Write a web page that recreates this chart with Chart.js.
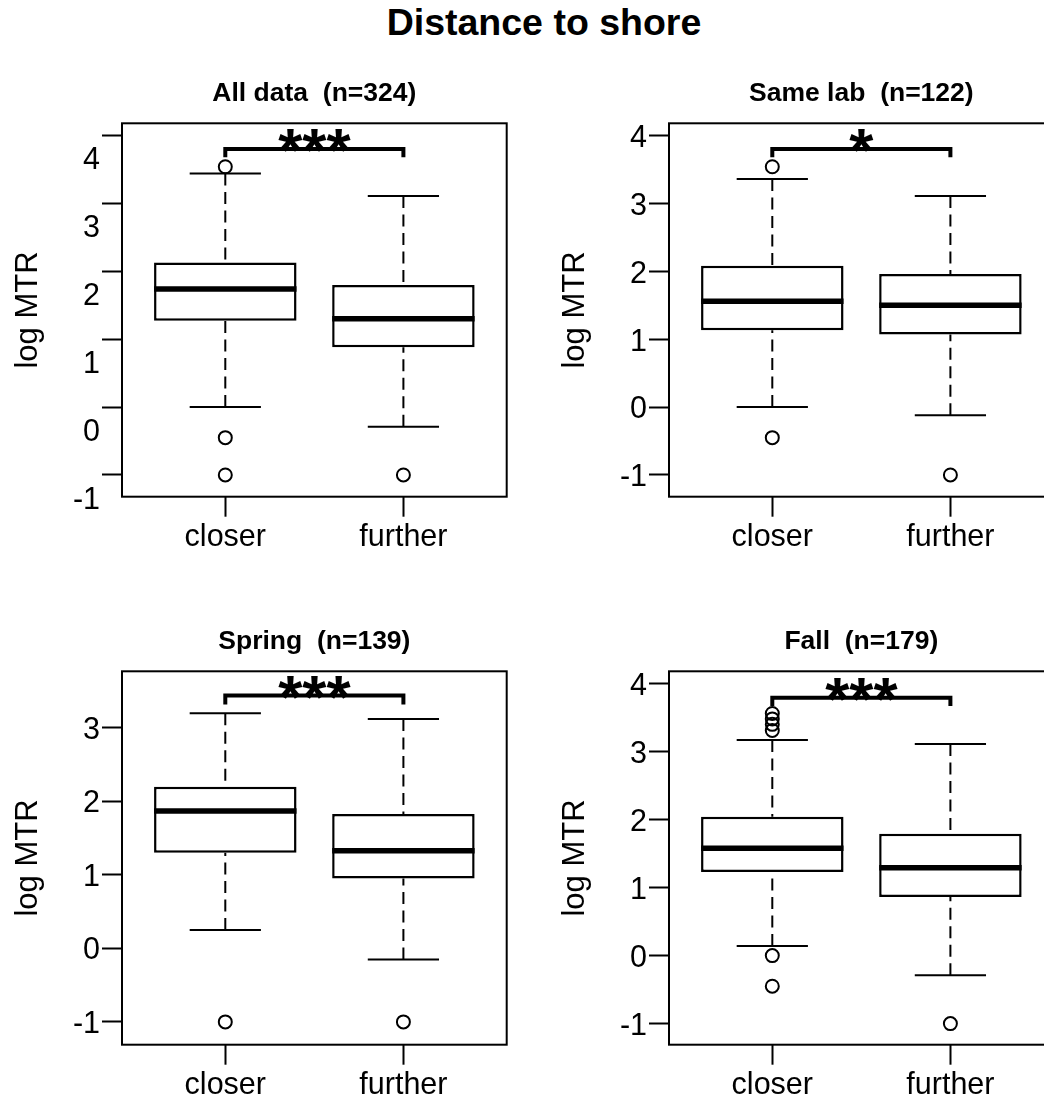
<!DOCTYPE html>
<html>
<head>
<meta charset="utf-8">
<script src="https://cdn.jsdelivr.net/npm/chart.js@4.4.1/dist/chart.umd.min.js"></script>
<style>
  html, body { margin: 0; padding: 0; background: #fff; }
  body { width: 1044px; height: 1099px; overflow: hidden; position: relative; font-family: "Liberation Sans", Arial, sans-serif; }
  #mainTitle { position: absolute; left: 0; top: 3px; width: 1088px; text-align: center; font-weight: bold; font-size: 37.5px; line-height: 38px; color: #000; }
  .panel { position: absolute; }
</style>
</head>
<body>
<div id="mainTitle">Distance to shore</div>
<script>
const categories = ['closer', 'further'];
const panelTitles = ['All data  (n=324)', 'Same lab  (n=122)', 'Spring  (n=139)', 'Fall  (n=179)'];

// five-number summaries, one pair (closer, further) per panel
const lowWhisker  = [[0.00, -0.29], [0.00, -0.12], [0.25, -0.15], [0.14, -0.29]];
const q1          = [[1.27, 0.88], [1.13, 1.07], [1.30, 0.95], [1.23, 0.86]];
const median      = [[1.74, 1.30], [1.56, 1.50], [1.87, 1.33], [1.58, 1.29]];
const q3          = [[2.13, 1.80], [2.08, 1.96], [2.20, 1.83], [2.04, 1.79]];
const highWhisker = [[3.44, 3.11], [3.36, 3.11], [3.20, 3.12], [3.17, 3.11]];
const outliers = [
  [[3.54, -0.45, -1.00], [-1.00]],
  [[3.54, -0.45], [-1.00]],
  [[-1.00], [-1.00]],
  [[3.56, 3.48, 3.40, 3.31, 0.00, -0.45], [-1.00]]
];

// significance bracket
const stars = ['***', '*', '***', '***'];
const bracketY = [3.80, 3.80, 3.44, 3.79];
const bracketDrop = 0.12;

// y axes
const yMin = [-1.32, -1.32, -1.31, -1.31];
const yMax = [4.18, 4.18, 3.77, 4.18];
const yTicks = [[-1, 0, 1, 2, 3, 4], [-1, 0, 1, 2, 3, 4], [-1, 0, 1, 2, 3], [-1, 0, 1, 2, 3, 4]];

// page placement of each canvas and vertical nudge of its tick labels
const spots = [[0, 60], [547, 60], [0, 608], [547, 608]];
const labelShift = [25.5, 3, 2.5, 3];
const CW = 540, CH = 490;
const PLOT_L = 122, PLOT_R = 506.7, PLOT_B = 436.7;

Chart.defaults.font.family = '"Liberation Sans", Arial, sans-serif';
Chart.defaults.color = '#000';

function seg(ctx, x1, y1, x2, y2) {
  ctx.beginPath();
  ctx.moveTo(x1, y1);
  ctx.lineTo(x2, y2);
  ctx.stroke();
}

const boxParts = {
  id: 'boxParts',
  beforeDatasetsDraw(chart, args, opts) {
    const k = opts.panel;
    const {ctx, scales: {x, y}} = chart;
    const bars = chart.getDatasetMeta(0).data;
    ctx.save();
    ctx.strokeStyle = '#000';
    ctx.lineWidth = 2;
    ctx.lineCap = 'butt';
    categories.forEach((c, i) => {
      const cx = x.getPixelForValue(i + 1);
      const half = bars[i].width / 4;
      const yHi = y.getPixelForValue(highWhisker[k][i]);
      const yLo = y.getPixelForValue(lowWhisker[k][i]);
      // dashed stems run from the staple towards the box
      ctx.setLineDash([12, 6.5]);
      seg(ctx, cx, yHi, cx, y.getPixelForValue(q3[k][i]));
      seg(ctx, cx, yLo, cx, y.getPixelForValue(q1[k][i]));
      ctx.setLineDash([]);
      seg(ctx, cx - half, yHi, cx + half, yHi);
      seg(ctx, cx - half, yLo, cx + half, yLo);
    });
    ctx.restore();
  },
  afterDatasetsDraw(chart, args, opts) {
    const k = opts.panel;
    const {ctx, chartArea, scales: {x, y}} = chart;
    const bars = chart.getDatasetMeta(0).data;
    ctx.save();
    ctx.strokeStyle = '#000';
    ctx.fillStyle = '#000';

    // medians
    ctx.lineWidth = 5.5;
    categories.forEach((c, i) => {
      const b = bars[i];
      const ym = y.getPixelForValue(median[k][i]);
      seg(ctx, b.x - b.width / 2, ym, b.x + b.width / 2, ym);
    });

    // bracket with stars
    const xa = x.getPixelForValue(1), xb = x.getPixelForValue(2);
    const yt = y.getPixelForValue(bracketY[k]);
    const yd = y.getPixelForValue(bracketY[k] - bracketDrop);
    ctx.lineWidth = 4;
    ctx.lineJoin = 'miter';
    ctx.beginPath();
    ctx.moveTo(xa, yd);
    ctx.lineTo(xa, yt);
    ctx.lineTo(xb, yt);
    ctx.lineTo(xb, yd);
    ctx.stroke();
    ctx.font = 'bold 62px "Liberation Sans", Arial, sans-serif';
    ctx.textAlign = 'center';
    ctx.textBaseline = 'alphabetic';
    ctx.fillText(stars[k], (xa + xb) / 2, yt + 22);

    // plot frame
    ctx.lineWidth = 2;
    ctx.strokeRect(chartArea.left, chartArea.top, chartArea.right - chartArea.left, chartArea.bottom - chartArea.top);
    ctx.restore();
  }
};

spots.forEach(([left, top], k) => {
  const wrap = document.createElement('div');
  wrap.className = 'panel';
  wrap.style.left = left + 'px';
  wrap.style.top = top + 'px';
  const canvas = document.createElement('canvas');
  canvas.width = CW;
  canvas.height = CH;
  wrap.appendChild(canvas);
  document.body.appendChild(wrap);

  const boxes = categories.map((c, i) => ({x: i + 1, y: [q1[k][i], q3[k][i]]}));
  const points = [];
  outliers[k].forEach((vals, i) => vals.forEach(v => points.push({x: i + 1, y: v})));

  new Chart(canvas, {
    type: 'bar',
    data: {
      datasets: [
        {
          type: 'bar',
          data: boxes,
          backgroundColor: '#fff',
          borderColor: '#000',
          borderWidth: 2.5,
          borderSkipped: false,
          categoryPercentage: 0.8,
          barPercentage: 1
        },
        {
          type: 'scatter',
          data: points,
          pointStyle: 'circle',
          pointRadius: 6.5,
          pointBorderWidth: 2,
          pointBorderColor: '#000',
          pointBackgroundColor: 'rgba(255,255,255,0)'
        }
      ]
    },
    options: {
      responsive: false,
      animation: false,
      layout: { padding: { left: 0, top: 0, right: CW - PLOT_R, bottom: 0 } },
      plugins: {
        legend: { display: false },
        tooltip: { enabled: false },
        title: {
          display: true,
          fullSize: false,
          text: panelTitles[k],
          color: '#000',
          font: { size: 26.5, weight: 'bold' },
          padding: { top: 18, bottom: 13.5 }
        },
        boxParts: { panel: k }
      },
      scales: {
        x: {
          type: 'linear',
          min: 0.42,
          max: 2.58,
          offset: false,
          bounds: 'data',
          afterBuildTicks: s => { s.ticks = categories.map((c, i) => ({value: i + 1})); },
          afterFit: s => { s.height = CH - PLOT_B; },
          ticks: {
            callback: v => categories[v - 1],
            font: { size: 30.5 },
            color: '#000',
            padding: 3,
            maxRotation: 0,
            autoSkip: false
          },
          grid: { offset: false, drawOnChartArea: false, drawTicks: true, tickLength: 20, tickWidth: 2, tickColor: '#000' },
          border: { display: false }
        },
        y: {
          type: 'linear',
          min: yMin[k],
          max: yMax[k],
          bounds: 'data',
          afterBuildTicks: s => { s.ticks = yTicks[k].map(v => ({value: v})); },
          afterFit: s => { s.width = PLOT_L; },
          ticks: {
            font: { size: 30.5 },
            color: '#000',
            padding: 2,
            labelOffset: labelShift[k],
            autoSkip: false
          },
          grid: { drawOnChartArea: false, drawTicks: true, tickLength: 20, tickWidth: 2, tickColor: '#000' },
          border: { display: false },
          title: {
            display: true,
            text: 'log MTR',
            color: '#000',
            font: { size: 31 },
            padding: { top: 10, bottom: 0 }
          }
        }
      }
    },
    plugins: [boxParts]
  });
});
</script>
</body>
</html>
